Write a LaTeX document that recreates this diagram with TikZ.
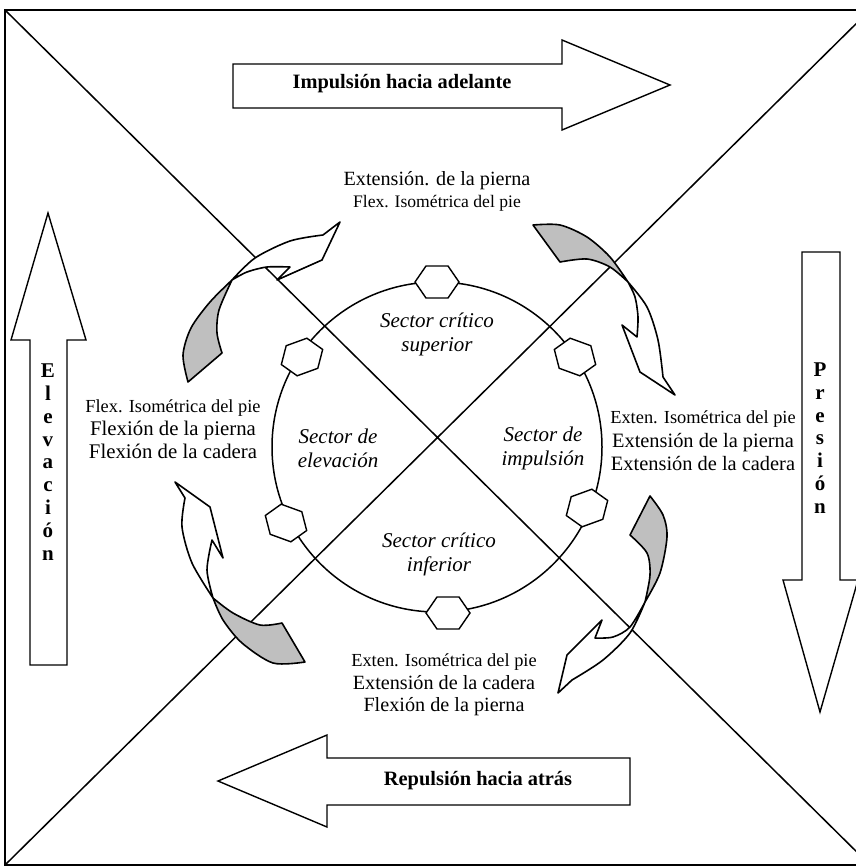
\documentclass[tikz,border=0pt]{standalone}
\usepackage{fontspec}
\setmainfont{Liberation Serif}

\begin{document}
\begin{tikzpicture}[
  x=0.5pt, y=-0.5pt,
  outline/.style={line width=0.75pt},
  blockarrow/.style={draw, line width=0.7pt, fill=white, line join=miter},
  ribbon/.style={draw, line width=0.8pt, fill=white, line join=round},
  backside/.style={draw, line width=0.8pt, fill=black!25, line join=round},
  hexline/.style={draw, line width=0.7pt, fill=white},
  motion/.style={align=center, inner sep=0pt},
  sector/.style={font=\fontsize{10.5}{12}\selectfont\itshape, align=center, inner sep=0pt},
  arrlab/.style={font=\fontsize{10.2}{12}\selectfont\bfseries, inner sep=0pt},
  vlab/.style={font=\fontsize{10.5}{11.4}\selectfont\bfseries, align=center, inner sep=0pt},
  pics/hexa/.style={code={\draw[hexline] (-22,0) -- (-11,-16) -- (11,-16) -- (22,0) -- (11,16) -- (-11,16) -- cycle;}}
]
\useasboundingbox (0,0) rectangle (856,867);
\clip (0,0) rectangle (856,867);

% frame and diagonals
\coordinate (nw) at (5,10);
\coordinate (ne) at (870,10);
\coordinate (se) at (870,865);
\coordinate (sw) at (5,865);
\draw[outline] (nw) rectangle (se);
\draw[outline] (nw) -- (se) (ne) -- (sw);

% circle of the cycle
\coordinate (c) at (437,447);
\draw[outline] (c) circle[radius=165];
\pic at (437,282) {hexa};
\pic[rotate=20] at (302,357) {hexa};
\pic[rotate=-20] at (575,357) {hexa};
\pic[rotate=-20] at (286,523) {hexa};
\pic[rotate=20] at (587,508) {hexa};
\pic at (448,613) {hexa};

% curved arrows
\filldraw[backside] plot[smooth] coordinates {(188,382) (183,355) (191,328) (210,302) (232,280)}
  -- plot[smooth] coordinates {(232,280) (219,310) (217,333) (222,353)} -- cycle;
\filldraw[ribbon] plot[smooth] coordinates {(232,280) (255,258) (290,241) (323,235)}
  -- (340,222) -- (322,260) -- (277,280)
  -- plot[smooth] coordinates {(290,267) (267,267) (247,272) (232,280)} -- cycle;

\filldraw[backside] plot[smooth] coordinates {(533,225) (560,225) (587,237) (610,257) (628,282)}
  -- plot[smooth] coordinates {(628,282) (610,267) (587,259) (560,262)} -- cycle;
\filldraw[ribbon] plot[smooth] coordinates {(628,282) (647,307) (658,340) (663,377)}
  -- (675,395) -- (640,372) -- (622,325)
  -- plot[smooth] coordinates {(637,337) (638,317) (635,297) (628,282)} -- cycle;

\filldraw[backside] plot[smooth] coordinates {(650,496) (663,515) (667,537) (660,573) (645,602)}
  -- plot[smooth] coordinates {(645,602) (650,575) (647,553) (630,535)} -- cycle;
\filldraw[ribbon] plot[smooth] coordinates {(645,602) (630,633) (603,660) (572,680)}
  -- (558,693) -- (567,655) -- (602,620)
  -- plot[smooth] coordinates {(595,638) (613,637) (630,627) (645,602)} -- cycle;

\filldraw[backside] plot[smooth] coordinates {(305,662) (273,663) (242,643) (223,620) (213,598)}
  -- plot[smooth] coordinates {(213,598) (233,613) (260,625) (282,623)} -- cycle;
\filldraw[ribbon] plot[smooth] coordinates {(213,598) (192,563) (182,527) (185,498)}
  -- (175,482) -- (210,507) -- (223,558)
  -- plot[smooth] coordinates {(212,540) (207,570) (213,598)} -- cycle;

% block arrows
\draw[blockarrow] (233,64) -- (562,64) -- (562,40) -- (670,85) -- (562,130) -- (562,108) -- (233,108) -- cycle;
\node[arrlab] (fwd) at (402,84) {Impulsión hacia adelante};
\draw[blockarrow] (630,758) -- (327,758) -- (327,735) -- (218,781) -- (327,827) -- (327,805) -- (630,805) -- cycle;
\node[arrlab] (back) at (478,781) {Repulsión hacia atrás};
\draw[blockarrow] (30,665) -- (30,340) -- (11,340) -- (48,213) -- (86,340) -- (67,340) -- (67,665) -- cycle;
\node[vlab] (elev) at (48,462) {E\\l\\e\\v\\a\\c\\i\\ó\\n};
\draw[blockarrow] (802,252) -- (840,252) -- (840,580) -- (858,580) -- (820,712) -- (783,580) -- (802,580) -- cycle;
\node[vlab] (pres) at (820,438) {P\\r\\e\\s\\i\\ó\\n};

% sectors
\node[sector] (sup) at (437,334) {Sector crítico\\superior};
\node[sector] (elv) at (338,448) {Sector de\\elevación};
\node[sector] (imp) at (543,448) {Sector de\\impulsión};
\node[sector] (inf) at (439,554) {Sector crítico\\inferior};

% joint actions
\node[motion, font=\fontsize{10.1}{11}\selectfont] (topmv) at (437,191)
  {Extensión. de la pierna\\{\fontsize{8.8}{11}\selectfont Flex. Isométrica del pie}};
\node[motion, font=\fontsize{10.4}{11.5}\selectfont] (leftmv) at (173,429)
  {{\fontsize{9.2}{11}\selectfont Flex. Isométrica del pie}\\Flexión de la pierna\\Flexión de la cadera};
\node[motion, font=\fontsize{10.2}{11.75}\selectfont] (rightmv) at (703,441)
  {{\fontsize{9.2}{11}\selectfont Exten. Isométrica del pie}\\Extensión de la pierna\\Extensión de la cadera};
\node[motion, font=\fontsize{10.1}{11.25}\selectfont] (botmv) at (444,685)
  {{\fontsize{9.2}{11}\selectfont Exten. Isométrica del pie}\\Extensión de la cadera\\Flexión de la pierna};
\end{tikzpicture}
\end{document}
